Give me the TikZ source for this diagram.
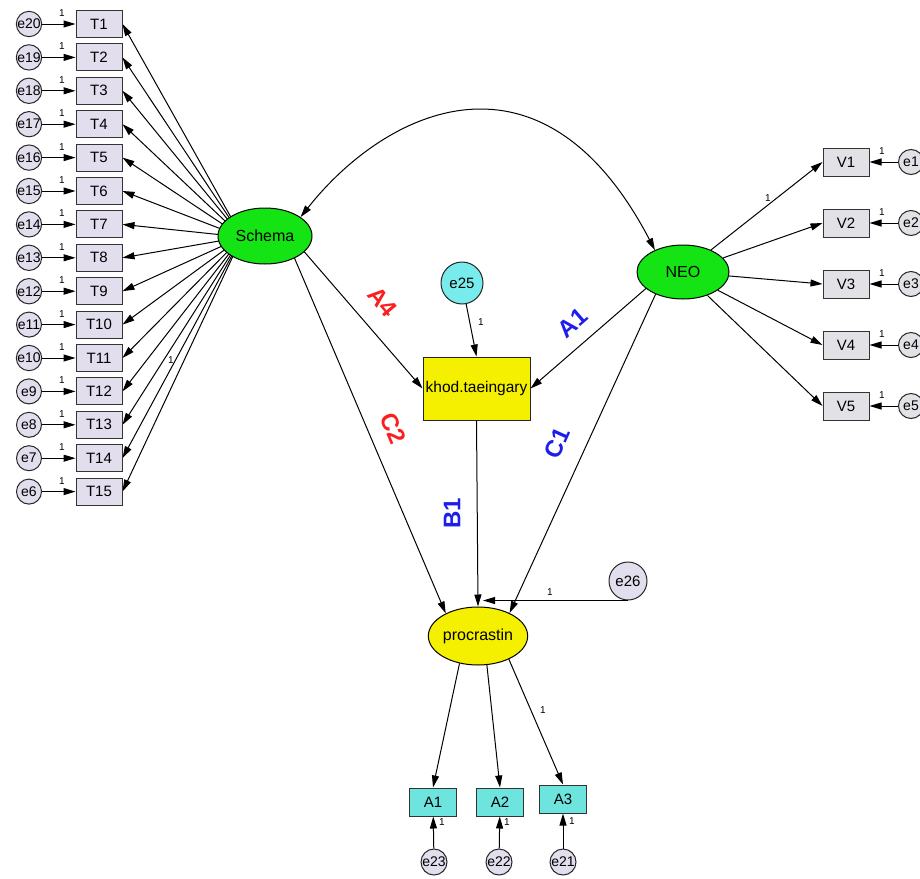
\documentclass[tikz,border=0pt]{standalone}
\usepackage{fontspec}
\setmainfont{Liberation Sans}
\usetikzlibrary{arrows.meta,shapes.geometric,backgrounds}
\definecolor{lav}{RGB}{226,222,238}
\definecolor{lgray}{RGB}{226,226,230}
\definecolor{grn}{RGB}{20,228,20}
\definecolor{yel}{RGB}{245,240,0}
\definecolor{cyn}{RGB}{110,228,222}
\definecolor{cyn2}{RGB}{120,236,236}
\definecolor{redl}{RGB}{250,30,30}
\definecolor{bluel}{RGB}{30,30,235}
\begin{document}
\begin{tikzpicture}[x=1pt,y=-1pt,
 obs/.style={draw=black!80,line width=1pt,minimum width=46pt,minimum height=27pt,inner sep=0pt,font=\fontsize{15}{18}\selectfont},
 tbox/.style={obs,fill=lav},
 vbox/.style={obs,fill=lgray,minimum height=28pt},
 abox/.style={obs,fill=cyn,minimum width=47pt,minimum height=28pt},
 err/.style={circle,draw=black!85,line width=1pt,fill=lav,minimum size=25pt,inner sep=0pt,font=\fontsize{14}{16}\selectfont},
 lat/.style={ellipse,draw=black,line width=1pt,inner sep=0pt,font=\fontsize{16}{18}\selectfont},
 tip/.tip={Triangle[length=12pt,width=7pt]},
 arr/.style={-tip,line width=1pt},
 one/.style={font=\fontsize{10}{12}\selectfont,inner sep=1pt},
 plab/.style={font=\fontsize{24}{26}\selectfont\bfseries,inner sep=0pt}
]
\useasboundingbox (0,0) rectangle (920,878);
\begin{pgfonlayer}{background}
  \fill[white] (0,0) rectangle (920,878);
\end{pgfonlayer}

% latent variables
\node[lat,fill=grn,minimum width=94pt,minimum height=56pt] (Schema) at (265,236) {Schema};
\coordinate (Sf) at (242,237);
\node[lat,fill=grn,minimum width=92pt,minimum height=54pt] (NEO) at (683,272) {NEO};
\node[lat,fill=yel,minimum width=96pt,minimum height=58pt] (procr) at (478,636) {procrastin};
\node[draw=black!85,line width=1pt,fill=yel,minimum width=107pt,minimum height=63pt,inner sep=0pt,font=\fontsize{15.5}{18}\selectfont] (khod) at (476.5,388.5) {khod.taeingary};
\node[err,fill=cyn2,minimum size=42pt,font=\fontsize{15}{18}\selectfont] (e25) at (462,283) {e25};
\node[err,fill=lav,minimum size=38pt,font=\fontsize{15}{18}\selectfont] (e26) at (628,581) {e26};

% left indicators
\foreach \i in {1,...,15} {
  \pgfmathtruncatemacro\ee{21-\i}
  \node[tbox] (T\i) at (99,{24+(\i-1)*33.4}) {T\i};
  \node[err] (e\ee) at (29,{24+(\i-1)*33.4}) {e\ee};
  \draw[arr] (e\ee) -- (T\i);
  \node[one] at (62,{13+(\i-1)*33.4}) {1};
  \begin{pgfonlayer}{background}
    \draw[arr] (Sf) -- (T\i.east);
  \end{pgfonlayer}
}
\node[one] at (171,360) {1};

% right indicators
\foreach \i/\yy in {1/162,2/223,3/284,4/345,5/406} {
  \node[vbox] (V\i) at (846,\yy) {V\i};
  \node[err,fill=lgray] (e\i) at (911,\yy) {e\i};
  \draw[arr] (e\i) -- (V\i);
  \node[one] at (882,\yy-11) {1};
  \draw[arr] (NEO) -- (V\i.west);
}
\node[one] at (768,198) {1};

% bottom indicators
\node[abox] (A1) at (433,802) {A1};
\node[abox] (A2) at (500,802) {A2};
\node[abox] (A3) at (563,799) {A3};
\node[err,minimum size=26pt] (e23) at (434,862) {e23};
\node[err,minimum size=26pt] (e22) at (499,862) {e22};
\node[err,minimum size=26pt] (e21) at (563,862) {e21};
\draw[arr] (e23) -- (A1);
\draw[arr] (e22) -- (A2);
\draw[arr] (e21) -- (A3);
\node[one] at (442,822) {1};
\node[one] at (507,822) {1};
\node[one] at (572,821) {1};
\draw[arr] (procr.-124) -- (A1.north);
\draw[arr] (procr.-73) -- (A2.north);
\draw[arr] (procr.-37) -- (A3.north);
\node[one] at (543,710) {1};

% structural paths
\draw[arr] (Schema.-22) -- (khod.west);
\draw[arr] (NEO.-156) -- (khod.east);
\draw[arr] (Schema.-37) -- (procr.145);
\draw[arr] (NEO.-141) -- (procr.36);
\draw[arr] (khod.south) -- (procr.north);
\draw[arr] (e25) -- (khod.north);
\node[one] at (481,322) {1};
\draw[arr] (e26.south) -- ([xshift=5pt]procr.north |- e26.south);
\node[one] at (550,592) {1};

% covariance
\draw[tip-tip,line width=1pt]
  (Schema.28) .. controls (386,109) and (542,34) .. (NEO.142);

% path labels
\node[plab,text=redl,rotate=-50] at (383,302) {A4};
\node[plab,text=bluel,rotate=41] at (573,323) {A1};
\node[plab,text=redl,rotate=-67] at (393,428) {C2};
\node[plab,text=bluel,rotate=66] at (557,443) {C1};
\node[plab,text=bluel,rotate=90] at (452,513) {B1};
\end{tikzpicture}
\end{document}
